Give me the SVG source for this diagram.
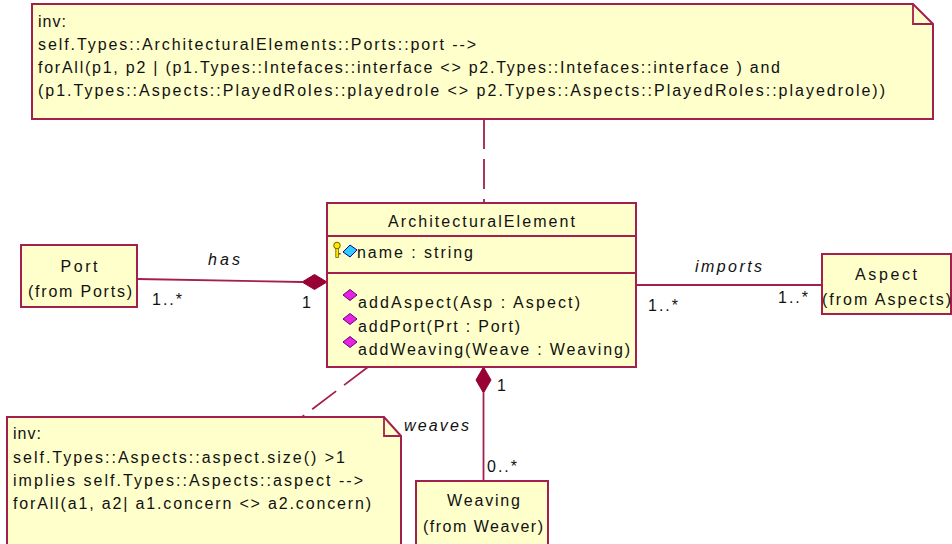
<svg xmlns="http://www.w3.org/2000/svg" width="952" height="544" viewBox="0 0 952 544">
<style>
.box{fill:#FFFFCC;stroke:#A31F4E;stroke-width:2}
.ln{fill:none;stroke:#A31F4E;stroke-width:1.8}
.dash{fill:none;stroke:#A31F4E;stroke-width:1.8;stroke-dasharray:30 10}
.dia{fill:#990033;stroke:#990033;stroke-width:1}
text{font-family:"Liberation Sans",Arial,sans-serif;font-size:16px;fill:#111}
.it{font-style:italic}
.mid{text-anchor:middle}
.op{fill:#E622E6;stroke:#6A006A;stroke-width:1}
</style>
<rect width="952" height="544" fill="#FFFFFF"/>

<g id="connectors">
  <line class="dash" x1="484" y1="119" x2="484" y2="203"/>
  <line class="dash" x1="368" y1="367" x2="302" y2="417"/>
  <line class="ln" x1="137" y1="279" x2="302" y2="282"/>
  <polygon class="dia" points="302,282 314.5,274.5 327,282 314.5,289.5"/>
  <line class="ln" x1="636" y1="285" x2="822" y2="285"/>
  <polygon class="dia" points="483.5,367 491,380 483.5,393 476,380"/>
  <line class="ln" x1="483.5" y1="393" x2="483.5" y2="481"/>
  <text class="it" x="208" y="265" textLength="32" lengthAdjust="spacing">has</text>
  <text x="152" y="305" textLength="30" lengthAdjust="spacing">1..*</text>
  <text x="302" y="308">1</text>
  <text class="it" x="695" y="272" textLength="67" lengthAdjust="spacing">imports</text>
  <text x="648" y="311" textLength="30" lengthAdjust="spacing">1..*</text>
  <text x="778" y="303" textLength="30" lengthAdjust="spacing">1..*</text>
  <text class="it" x="404" y="431" textLength="65" lengthAdjust="spacing">weaves</text>
  <text x="497" y="391">1</text>
  <text x="487" y="472" textLength="30" lengthAdjust="spacing">0..*</text>
</g>

<g id="note-top">
  <path class="box" d="M32,4 H913 L933,24 V119 H32 Z"/>
  <path class="ln" d="M913,4 V24 H933"/>
  <text x="38" y="27" textLength="28" lengthAdjust="spacing">inv:</text>
  <text x="38" y="50" textLength="438" lengthAdjust="spacing">self.Types::ArchitecturalElements::Ports::port --&gt;</text>
  <text x="38" y="73" textLength="742" lengthAdjust="spacing">forAll(p1, p2 | (p1.Types::Intefaces::interface &lt;&gt; p2.Types::Intefaces::interface ) and</text>
  <text x="38" y="96" textLength="847" lengthAdjust="spacing">(p1.Types::Aspects::PlayedRoles::playedrole &lt;&gt; p2.Types::Aspects::PlayedRoles::playedrole))</text>
</g>

<g id="ArchitecturalElement">
  <rect class="box" x="327" y="203" width="309" height="164"/>
  <line class="ln" x1="327" y1="236" x2="636" y2="236"/>
  <line class="ln" x1="327" y1="273" x2="636" y2="273"/>
  <text class="mid" x="481.5" y="227" textLength="187" lengthAdjust="spacing">ArchitecturalElement</text>
  <circle cx="337" cy="245.5" r="3.3" fill="#FFE800" stroke="#7A5C00" stroke-width="1"/>
  <rect x="335.8" y="248.5" width="2.6" height="9" fill="#FFE800" stroke="#7A5C00" stroke-width="0.8"/>
  <rect x="338.4" y="253" width="2.2" height="1.6" fill="#7A5C00"/>
  <polygon points="343,252 350,245 357,250 350,257" fill="#33CCFF" stroke="#0000AA" stroke-width="1"/>
  <text x="357" y="258" textLength="116" lengthAdjust="spacing">name : string</text>
  <polygon class="op" points="343,295 350,289.5 357,295 350,300.5"/>
  <text x="358" y="308" textLength="222" lengthAdjust="spacing">addAspect(Asp : Aspect)</text>
  <polygon class="op" points="343,319 350,313.5 357,319 350,324.5"/>
  <text x="358" y="332" textLength="162" lengthAdjust="spacing">addPort(Prt : Port)</text>
  <polygon class="op" points="343,342 350,336.5 357,342 350,347.5"/>
  <text x="358" y="355" textLength="272" lengthAdjust="spacing">addWeaving(Weave : Weaving)</text>
</g>

<g id="Port">
  <rect class="box" x="21" y="245" width="116" height="62"/>
  <text class="mid" x="79" y="272" textLength="37" lengthAdjust="spacing">Port</text>
  <text class="mid" x="80" y="297" textLength="104" lengthAdjust="spacing">(from Ports)</text>
</g>

<g id="Aspect">
  <rect class="box" x="822" y="254" width="129" height="60"/>
  <text class="mid" x="886" y="280" textLength="62" lengthAdjust="spacing">Aspect</text>
  <text class="mid" x="886.5" y="305" textLength="129" lengthAdjust="spacing">(from Aspects)</text>
</g>

<g id="Weaving">
  <rect class="box" x="416" y="481" width="132" height="80"/>
  <text class="mid" x="483.5" y="506" textLength="73" lengthAdjust="spacing">Weaving</text>
  <text class="mid" x="483" y="532" textLength="120" lengthAdjust="spacing">(from Weaver)</text>
</g>

<g id="note-bottom">
  <path class="box" d="M7,417 H384 L401,436 V560 H7 Z"/>
  <path class="ln" d="M384,417 V436 H401"/>
  <text x="13" y="439" textLength="28" lengthAdjust="spacing">inv:</text>
  <text x="13" y="463" textLength="332" lengthAdjust="spacing">self.Types::Aspects::aspect.size() &gt;1</text>
  <text x="13" y="486" textLength="350" lengthAdjust="spacing">implies self.Types::Aspects::aspect --&gt;</text>
  <text x="13" y="509" textLength="358" lengthAdjust="spacing">forAll(a1, a2| a1.concern &lt;&gt; a2.concern)</text>
</g>
</svg>
